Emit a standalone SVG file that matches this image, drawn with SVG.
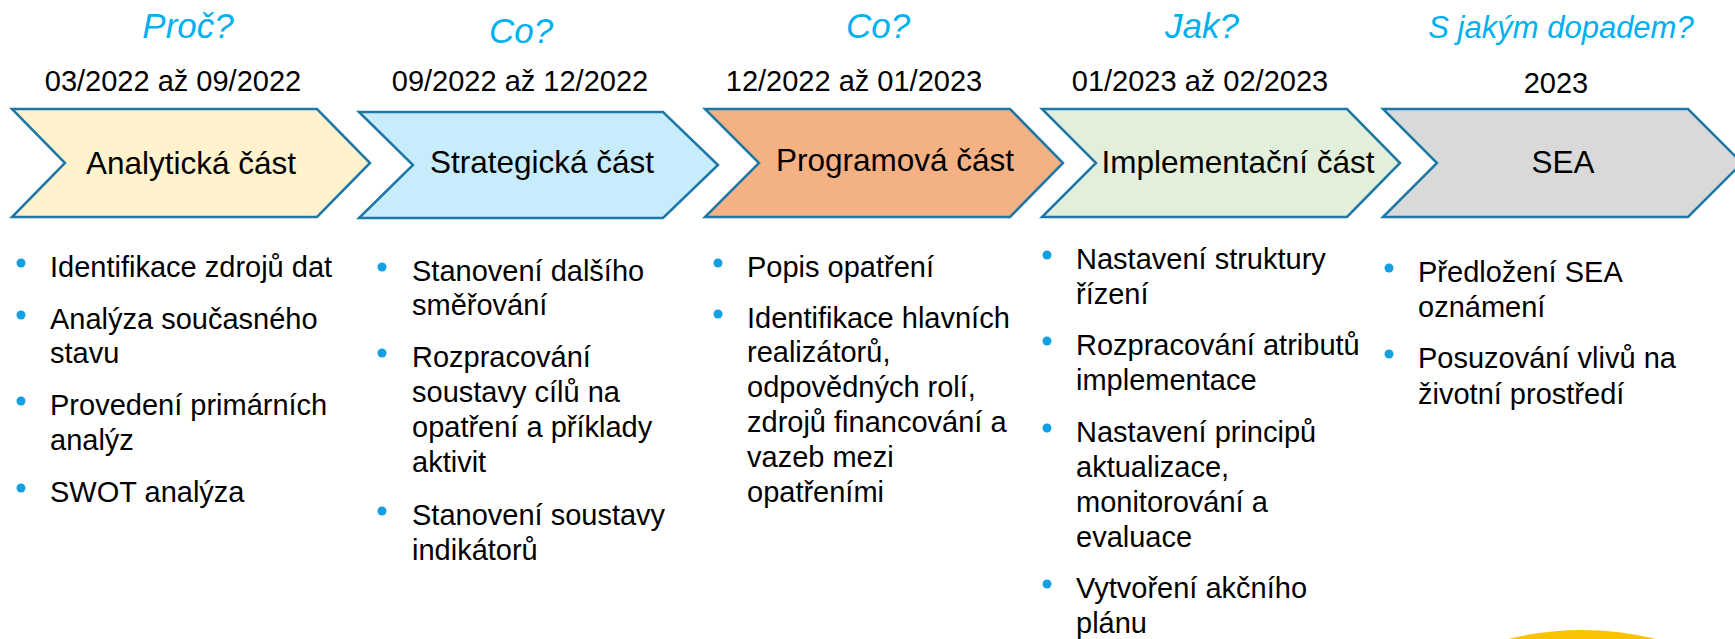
<svg xmlns="http://www.w3.org/2000/svg" width="1735" height="639" viewBox="0 0 1735 639">
<style>
text{font-family:"Liberation Sans",Arial,sans-serif;fill:#000}
.q{font-style:italic;fill:#00B0F0;font-size:35px;text-anchor:middle}
.d{font-size:29px;text-anchor:middle}
.l{font-size:31.5px;text-anchor:middle}
.b{font-size:29px}
.dot{fill:#139FE3}
.ch{stroke:#1F77A6;stroke-width:2.5;stroke-linejoin:miter}
</style>
<rect width="1735" height="639" fill="#fff"/>
<g id="stage-analyticka">
<text class="q" x="188" y="38">Proč?</text>
<text class="d" x="173" y="91">03/2022 až 09/2022</text>
<polygon class="ch" points="12,109 317,109 370,163 317,217 12,217 65,163" fill="#FFF2CC" stroke="#BF9000"/>
<text class="l" x="191" y="174">Analytická část</text>
<circle class="dot" cx="21" cy="263" r="4.5"/>
<text class="b" x="50" y="277">Identifikace zdrojů dat</text>
<circle class="dot" cx="21" cy="315" r="4.5"/>
<text class="b" x="50" y="329">Analýza současného</text>
<text class="b" x="50" y="363">stavu</text>
<circle class="dot" cx="21" cy="401" r="4.5"/>
<text class="b" x="50" y="415">Provedení primárních</text>
<text class="b" x="50" y="450">analýz</text>
<circle class="dot" cx="21" cy="488" r="4.5"/>
<text class="b" x="50" y="502">SWOT analýza</text>
</g>
<g id="stage-strategicka">
<text class="q" x="521" y="43">Co?</text>
<text class="d" x="520" y="91">09/2022 až 12/2022</text>
<polygon class="ch" points="359,112 663,112 718,165 663,218 359,218 413,165" fill="#C7ECFB"/>
<text class="l" x="542" y="173">Strategická část</text>
<circle class="dot" cx="382" cy="267" r="4.5"/>
<text class="b" x="412" y="281">Stanovení dalšího</text>
<text class="b" x="412" y="315">směřování</text>
<circle class="dot" cx="382" cy="353" r="4.5"/>
<text class="b" x="412" y="367">Rozpracování</text>
<text class="b" x="412" y="402">soustavy cílů na</text>
<text class="b" x="412" y="437">opatření a příklady</text>
<text class="b" x="412" y="472">aktivit</text>
<circle class="dot" cx="382" cy="511" r="4.5"/>
<text class="b" x="412" y="525">Stanovení soustavy</text>
<text class="b" x="412" y="560">indikátorů</text>
</g>
<g id="stage-programova">
<text class="q" x="878" y="38">Co?</text>
<text class="d" x="854" y="91">12/2022 až 01/2023</text>
<polygon class="ch" points="705,109 1010,109 1063,163 1010,217 705,217 759,163" fill="#F4B183"/>
<text class="l" x="895" y="171">Programová část</text>
<circle class="dot" cx="718" cy="263" r="4.5"/>
<text class="b" x="747" y="277">Popis opatření</text>
<circle class="dot" cx="718" cy="314" r="4.5"/>
<text class="b" x="747" y="328">Identifikace hlavních</text>
<text class="b" x="747" y="362">realizátorů,</text>
<text class="b" x="747" y="397">odpovědných rolí,</text>
<text class="b" x="747" y="432">zdrojů financování a</text>
<text class="b" x="747" y="467">vazeb mezi</text>
<text class="b" x="747" y="502">opatřeními</text>
</g>
<g id="stage-implementacni">
<text class="q" x="1202" y="38">Jak?</text>
<text class="d" x="1200" y="91">01/2023 až 02/2023</text>
<polygon class="ch" points="1042,109 1347,109 1400,163 1347,217 1042,217 1096,163" fill="#E2EFDA"/>
<text class="l" x="1238" y="173">Implementační část</text>
<circle class="dot" cx="1047" cy="255" r="4.5"/>
<text class="b" x="1076" y="269">Nastavení struktury</text>
<text class="b" x="1076" y="304">řízení</text>
<circle class="dot" cx="1047" cy="341" r="4.5"/>
<text class="b" x="1076" y="355">Rozpracování atributů</text>
<text class="b" x="1076" y="390">implementace</text>
<circle class="dot" cx="1047" cy="428" r="4.5"/>
<text class="b" x="1076" y="442">Nastavení principů</text>
<text class="b" x="1076" y="477">aktualizace,</text>
<text class="b" x="1076" y="512">monitorování a</text>
<text class="b" x="1076" y="547">evaluace</text>
<circle class="dot" cx="1047" cy="584" r="4.5"/>
<text class="b" x="1076" y="598">Vytvoření akčního</text>
<text class="b" x="1076" y="633">plánu</text>
</g>
<g id="stage-sea">
<text class="q" x="1561" y="38" style="font-size:31px">S jakým dopadem?</text>
<text class="d" x="1556" y="93">2023</text>
<polygon class="ch" points="1383,109 1688,109 1742,163 1688,217 1383,217 1437,163" fill="#D9D9D9"/>
<text class="l" x="1563" y="173">SEA</text>
<circle class="dot" cx="1389" cy="268" r="4.5"/>
<text class="b" x="1418" y="282">Předložení SEA</text>
<text class="b" x="1418" y="317">oznámení</text>
<circle class="dot" cx="1389" cy="354" r="4.5"/>
<text class="b" x="1418" y="368">Posuzování vlivů na</text>
<text class="b" x="1418" y="404">životní prostředí</text>
</g>
<g id="connectors"></g>
<path d="M1508,639 Q1582,621 1656,639 Z" fill="#F8C300"/>
</svg>
